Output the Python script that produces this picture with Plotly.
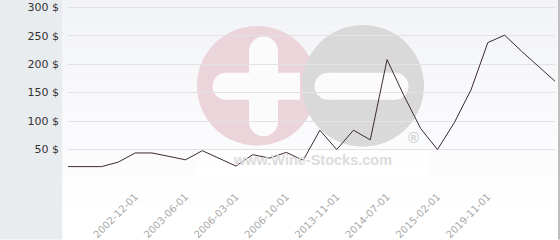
import plotly.graph_objects as go

dates = ["2001-06-01", "2001-12-01", "2002-04-01", "2002-08-01", "2002-12-01",
         "2003-02-01", "2003-04-01", "2003-06-01", "2004-06-01", "2005-06-01",
         "2006-03-01", "2006-05-01", "2006-08-01", "2006-10-01", "2008-06-01",
         "2011-06-01", "2013-11-01", "2014-01-01", "2014-04-01", "2014-07-01",
         "2014-10-01", "2014-12-01", "2015-02-01", "2016-06-01", "2018-01-01",
         "2019-11-01", "2020-06-01", "2021-06-01", "2022-06-01", "2023-06-01"]
prices = [20, 20, 20, 28, 44, 44, 38, 32, 48, 35,
          21, 41, 35, 45, 31, 84, 50, 84, 67, 208,
          145, 87, 50, 97, 155, 238, 251, 223, 196, 170]
tick_dates = ["2002-12-01", "2003-06-01", "2006-03-01", "2006-10-01",
              "2013-11-01", "2014-07-01", "2015-02-01", "2019-11-01"]
y_ticks = [0, 50, 100, 150, 200, 250, 300]
y_ticktext = ["", "50 $", "100 $", "150 $", "200 $", "250 $", "300 $"]

W, H = 560, 240
L, R, T, B = 68, 5, 0, 61.6
PW = W - L - R
PH = H - T - B


def px(x):
    return (x - L) / PW


def py(y):
    return (H - B - y) / PH


shapes = []
# sidebar
shapes.append(dict(type="rect", xref="paper", yref="paper", x0=px(0), x1=px(62.5),
                   y0=py(240), y1=py(0), fillcolor="#e8ecef", line_width=0, layer="below"))
# gradient background
N = 24
top, bot = 0, 215
c0 = (242, 243, 247)
c1 = (255, 255, 255)
for i in range(N):
    t = i / (N - 1)
    c = tuple(round(c0[k] + (c1[k] - c0[k]) * t) for k in range(3))
    y0 = top + (bot - top) * i / N
    y1 = top + (bot - top) * (i + 1) / N
    shapes.append(dict(type="rect", xref="paper", yref="paper", x0=px(62.5), x1=px(558),
                       y0=py(y1), y1=py(y0), fillcolor="rgb(%d,%d,%d)" % c,
                       line_width=0, layer="below"))
shapes.append(dict(type="rect", xref="paper", yref="paper", x0=px(62.5), x1=px(558),
                   y0=py(240), y1=py(bot), fillcolor="#ffffff", line_width=0, layer="below"))
# right border
shapes.append(dict(type="line", xref="paper", yref="paper", x0=px(559), x1=px(559),
                   y0=py(240), y1=py(0), line=dict(color="#a8a8a8", width=1.5), layer="below"))


def circle(cx, cy, r, color):
    return dict(type="circle", xref="paper", yref="paper", x0=px(cx - r), x1=px(cx + r),
                y0=py(cy + r), y1=py(cy - r), fillcolor=color, line_width=0, layer="below")


def rect(x0, y0, x1, y1, color):
    return dict(type="rect", xref="paper", yref="paper", x0=px(x0), x1=px(x1),
                y0=py(y1), y1=py(y0), fillcolor=color, line_width=0, layer="below")


# watermark box behind text
shapes.append(rect(198, 150, 428, 177, "rgba(255,255,255,0.7)"))
# watermark logo
pink = "#ecd4db"
grey = "#d9d9da"
shapes.append(circle(257, 86, 60, pink))
shapes.append(circle(363, 86, 61, grey))
# cross
shapes.append(rect(249, 51, 278, 122, "#fbfbfc"))
shapes.append(circle(263.5, 51, 14.5, "#fbfbfc"))
shapes.append(circle(263.5, 122, 14.5, "#fbfbfc"))
shapes.append(rect(226, 73, 300, 100, "#fbfbfc"))
shapes.append(circle(226, 86.5, 13.5, "#fbfbfc"))
# minus
shapes.append(rect(328, 73, 395, 100, "#fbfbfc"))
shapes.append(circle(328, 86.5, 13.5, "#fbfbfc"))
shapes.append(circle(395, 86.5, 13.5, "#fbfbfc"))

fig = go.Figure()
fig.add_trace(go.Scatter(x=dates, y=prices, mode="lines",
                         line=dict(color="#3b2a33", width=1), hoverinfo="skip"))

annotations = [
    dict(text="<b>www.Wine-Stocks.com</b>", xref="paper", yref="paper", x=px(312), y=py(160),
         showarrow=False, font=dict(family="Liberation Sans", size=14.5, color="#dcdcdc"),
         xanchor="center", yanchor="middle"),
    dict(text="<b>®</b>", xref="paper", yref="paper", x=px(413), y=py(138),
         showarrow=False, font=dict(family="Liberation Sans", size=15, color="#d2d2d2"),
         xanchor="center", yanchor="middle"),
]

fig.update_layout(
    width=W, height=H, autosize=False,
    margin=dict(l=L, r=R, t=T, b=B, pad=0),
    paper_bgcolor="#ffffff", plot_bgcolor="rgba(0,0,0,0)",
    showlegend=False,
    shapes=shapes, annotations=annotations,
    xaxis=dict(type="category", range=[0, len(dates) - 1], tickmode="array",
               tickvals=tick_dates, ticktext=tick_dates, tickangle=-45,
               showgrid=False, zeroline=False, showline=False, ticks="",
               tickfont=dict(family="DejaVu Sans", size=10, color="#a8a8a8"),
               ticklabelstandoff=10),
    yaxis=dict(range=[0, 312.8], tickmode="array", tickvals=y_ticks, ticktext=y_ticktext,
               showgrid=True, gridcolor="#e2e2e4", gridwidth=1, zeroline=False,
               showline=False, ticks="",
               tickfont=dict(family="DejaVu Sans", size=11, color="#333333"),
               ticklabelstandoff=8),
)

fig.write_html("out.html")
